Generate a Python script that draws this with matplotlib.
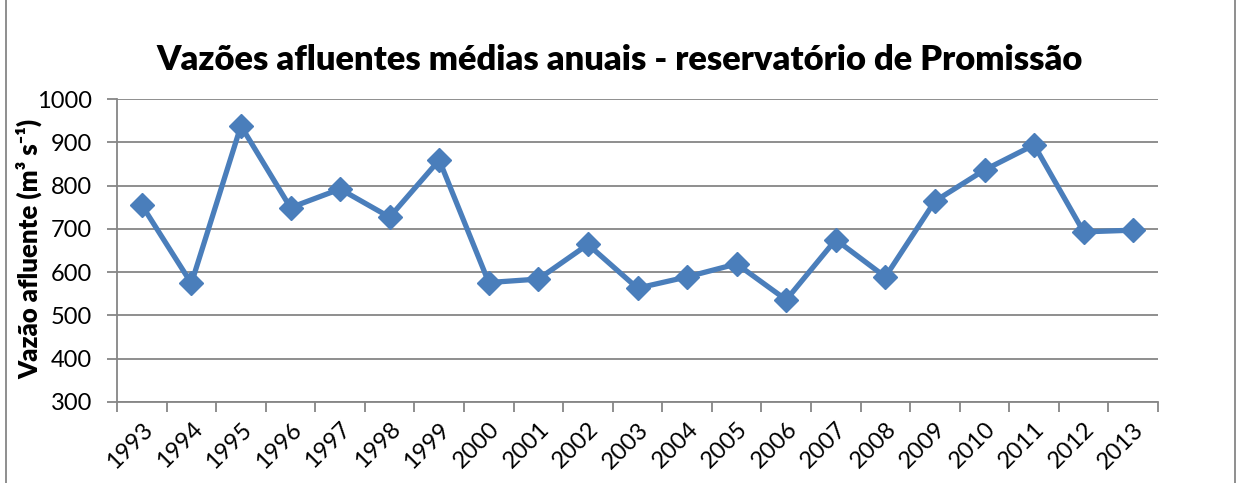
import matplotlib.pyplot as plt
import numpy as np

years = [str(y) for y in range(1993, 2014)]
vazao = [755, 574, 938, 749, 792, 727, 859, 576, 584, 664, 563, 589, 619, 536,
         675, 589, 764, 836, 894, 693, 697]

plt.rcParams['font.family'] = ['Lato', 'DejaVu Sans']

fig = plt.figure(figsize=(12.38, 4.83), dpi=100)
ax = fig.add_axes([117 / 1238, 1 - 402 / 483, (1158 - 117) / 1238, (402 - 99) / 483])

x = np.arange(len(years))
ax.plot(x, vazao, color='#4a7ebb', lw=3.8, marker='D', ms=12, mec='#4a7ebb',
        mfc='#4a7ebb', zorder=3, clip_on=False)

ax.set_xlim(-0.5, len(years) - 0.5)
ax.set_ylim(300, 1000)
ax.set_yticks(range(300, 1001, 100))
ax.yaxis.grid(True, color='#868686', lw=1.3)
ax.set_axisbelow(True)

ax.set_xticks(x)
ax.set_xticklabels(years, rotation=45, ha='right', rotation_mode='anchor', fontsize=17)
ax.set_xticks(np.arange(-0.5, len(years), 1), minor=True)
ax.tick_params(axis='x', which='major', length=0, pad=12)
ax.tick_params(axis='x', which='minor', length=7, width=1.3, color='#868686', direction='out')
ax.tick_params(axis='y', length=7, width=1.3, color='#868686', labelsize=17, pad=11)

for s in ['top', 'right']:
    ax.spines[s].set_visible(False)
for s in ['left', 'bottom']:
    ax.spines[s].set_color('#868686')
    ax.spines[s].set_linewidth(1.3)

ax.set_ylabel('Vazão afluente (m³ s⁻¹)', fontsize=18.5, fontweight='heavy')
ax.yaxis.set_label_coords((42 - 117) / 1041, 0.505)
ax.set_title('Vazões afluentes médias anuais - reservatório de Promissão',
             fontsize=24.8, fontweight='heavy', pad=21, x=(620 - 117) / 1041)

# chart area border
fig.add_artist(plt.Line2D([6 / 1238, 6 / 1238], [0, 1], color='#868686', lw=1.3))
fig.add_artist(plt.Line2D([1235 / 1238, 1235 / 1238], [0, 1], color='#868686', lw=1.3))

fig.savefig('out.png', dpi=100)
